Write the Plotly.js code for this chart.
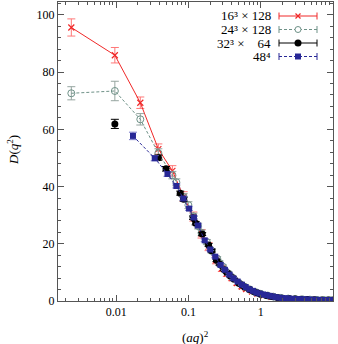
<!DOCTYPE html>
<html>
<head>
<meta charset="utf-8">
<script src="https://cdn.plot.ly/plotly-3.0.1.min.js"></script>
<style>
  html, body { margin: 0; padding: 0; background: #fff; }
  #plot { width: 338px; height: 344px; }
</style>
</head>
<body>
<div id="plot"></div>
<script>
// 16^3 x 128
var x16 = [0.0024, 0.0096, 0.0216, 0.0384, 0.06, 0.086, 0.117, 0.152, 0.19, 0.24, 0.29, 0.34, 0.4, 0.47, 0.55, 0.63, 0.76, 0.9, 1.1, 1.4, 1.8, 2.3, 3, 4, 5, 6.5, 8, 9.5];
var y16 = [95.6, 85.9, 69.3, 53.1, 45.5, 36.5, 29.5, 23.5, 19.0, 14.3, 11.4, 9.6, 8.0, 6.3, 5.0, 4.2, 3.3, 2.6, 2.0, 1.5, 1.1, 0.8, 0.6, 0.45, 0.38, 0.3, 0.25, 0.22];
var e16 = [3.0, 2.7, 2.0, 1.8, 1.8, 1.7, 1.6, 1.5, 1.4, 1.3, 1.1, 1.0, 0.9, 0.8, 0.7, 0.6, 0.5, 0.4, 0.3, 0.3, 0.2, 0.2, 0.1, 0.1, 0.1, 0.1, 0.1, 0.1];

// 24^3 x 128
var x24 = [0.0024, 0.0096, 0.0216, 0.0384, 0.06, 0.0681, 0.086, 0.1, 0.117, 0.136, 0.152, 0.18, 0.21, 0.25, 0.27, 0.3, 0.36, 0.41, 0.5, 0.6, 0.7, 0.85, 1.0, 1.25, 1.5, 1.9, 2.4, 3.0, 3.8, 4.8, 6, 7.5, 9];
var y24 = [72.6, 73.4, 63.5, 51.7, 44.0, 41.5, 36.3, 33.5, 29.6, 26.2, 23.8, 20.6, 17.5, 14.8, 13.3, 12.0, 9.6, 8.1, 6.3, 5.0, 4.1, 3.1, 2.5, 1.9, 1.5, 1.1, 0.85, 0.7, 0.57, 0.47, 0.4, 0.35, 0.32];
var e24 = [2.3, 3.4, 2.0, 1.5, 1.3, 1.2, 1.2, 1.2, 1.1, 1.0, 1.0, 0.9, 0.8, 0.7, 0.7, 0.6, 0.5, 0.5, 0.4, 0.3, 0.3, 0.2, 0.2, 0.2, 0.1, 0.1, 0.1, 0.1, 0.1, 0.1, 0.1, 0.1, 0.1];

// 32^3 x 64
var x32 = [0.0096, 0.0384, 0.049, 0.077, 0.086, 0.116, 0.126, 0.155, 0.19, 0.21, 0.245, 0.27, 0.31, 0.34, 0.38, 0.43, 0.5, 0.55, 0.6, 0.7, 0.8, 0.9, 1.0, 1.2, 1.4, 1.7, 2, 2.5, 3, 3.6, 4.4, 5.5, 7, 8.5, 10];
var y32 = [61.9, 50.1, 46.2, 37.7, 35.6, 29.1, 27.2, 23.4, 19.6, 17.6, 14.2, 12.9, 11.0, 10.0, 8.7, 7.6, 6.2, 5.6, 4.9, 4.0, 3.3, 2.8, 2.4, 1.9, 1.55, 1.2, 1.0, 0.8, 0.68, 0.58, 0.5, 0.43, 0.37, 0.34, 0.32];
var e32 = [1.6, 0.9, 0.8, 0.7, 0.7, 0.6, 0.6, 0.5, 0.5, 0.5, 0.4, 0.4, 0.4, 0.3, 0.3, 0.3, 0.2, 0.2, 0.2, 0.2, 0.1, 0.1, 0.1, 0.1, 0.1, 0.1, 0.1, 0.1, 0.1, 0.1, 0.1, 0.1, 0.1, 0.1, 0.1];

// 48^4
var x48 = [0.0171, 0.0342, 0.0513, 0.0681, 0.0852, 0.102, 0.119, 0.136, 0.168, 0.2, 0.235, 0.278, 0.32, 0.37, 0.42, 0.48, 0.55, 0.62, 0.7, 0.78, 0.87, 0.97, 1.08, 1.2, 1.33, 1.47, 1.62, 1.8, 2.0, 2.2, 2.45, 2.7, 3.0, 3.3, 3.65, 4.0, 4.4, 4.85, 5.35, 5.9, 6.5, 7.2, 7.9, 8.7, 9.6];
var y48 = [57.7, 49.9, 44.4, 40.2, 35.8, 32.3, 29.2, 26.4, 21.2, 18.0, 15.5, 12.6, 10.9, 9.2, 7.9, 6.8, 5.7, 4.9, 4.1, 3.55, 2.95, 2.6, 2.3, 2.05, 1.8, 1.58, 1.33, 1.17, 1.05, 0.95, 0.86, 0.78, 0.71, 0.65, 0.6, 0.55, 0.51, 0.47, 0.44, 0.41, 0.38, 0.36, 0.34, 0.33, 0.32];
var e48 = [1.3, 0.9, 0.8, 0.7, 0.6, 0.6, 0.5, 0.5, 0.5, 0.4, 0.4, 0.4, 0.3, 0.3, 0.3, 0.2, 0.2, 0.2, 0.2, 0.1, 0.1, 0.1, 0.1, 0.1, 0.1, 0.1, 0.1, 0.1, 0.1, 0.1, 0.1, 0.1, 0.1, 0.1, 0.1, 0.1, 0.1, 0.1, 0.1, 0.1, 0.1, 0.1, 0.1, 0.1, 0.1];

var names = ['16³ × 128', '24³ × 128', '32³ ×\u00a0\u00a0\u00a0 64', '48⁴'];

var red = 'rgb(240,40,40)', gray = 'rgb(110,145,135)', blk = 'rgb(0,0,0)', blue = 'rgb(40,40,150)';
var serif = 'Liberation Serif, DejaVu Serif, serif';

var data = [
    {x: x16, y: y16, type: 'scatter', mode: 'lines+markers',
     line: {color: red, width: 1},
     marker: {symbol: 'x-thin', size: 6, line: {color: red, width: 1.2}},
     error_y: {type: 'data', array: e16, color: 'rgb(255,120,120)', thickness: 1, width: 4}},
    {x: x24, y: y24, type: 'scatter', mode: 'lines+markers',
     line: {color: gray, width: 1, dash: '3px,2px'},
     marker: {symbol: 'circle-open', size: 7, color: gray, line: {width: 1}},
     error_y: {type: 'data', array: e24, color: 'rgb(150,165,160)', thickness: 1, width: 4}},
    {x: x32, y: y32, type: 'scatter', mode: 'markers',
     marker: {symbol: 'circle', size: 7, color: blk},
     error_y: {type: 'data', array: e32, color: blk, thickness: 1, width: 4}},
    {x: x48, y: y48, type: 'scatter', mode: 'lines+markers',
     line: {color: blue, width: 1, dash: '3px,2px'},
     marker: {symbol: 'square', size: 6, color: blue},
     error_y: {type: 'data', array: e48, color: 'rgb(120,120,200)', thickness: 1, width: 4}}
];

// hand drawn legend (text left, sample right), positions in pixels
var L = 58, R = 333, T = 2, B = 301;
function px(v) { return (v - L) / (R - L); }
function py(v) { return (B - v) / (B - T); }

var rows = [16, 29.5, 43, 56.5];
var cols = [red, gray, blk, blue];
var dashes = ['solid', 'dash', 'solid', 'dash'];
var shapes = [], annotations = [];
rows.forEach(function (r, i) {
    annotations.push({xref: 'paper', yref: 'paper', x: px(272), y: py(r), xanchor: 'right', yanchor: 'middle',
        borderpad: 0,
        text: names[i], showarrow: false, font: {family: serif, size: 13, color: '#000'}});
    shapes.push({type: 'line', xref: 'paper', yref: 'paper', x0: px(279), x1: px(317), y0: py(r), y1: py(r),
        line: {color: cols[i], width: 1, dash: dashes[i] === 'dash' ? '3px,2px' : 'solid'}});
    [279, 317].forEach(function (c) {
        shapes.push({type: 'line', xref: 'paper', yref: 'paper', x0: px(c), x1: px(c), y0: py(r - 3.5), y1: py(r + 3.5),
            line: {color: cols[i], width: 1}});
    });
});
// legend markers
shapes.push({type: 'line', xref: 'paper', yref: 'paper', x0: px(295.5), x1: px(300.5), y0: py(rows[0] - 2.5), y1: py(rows[0] + 2.5), line: {color: red, width: 1.2}});
shapes.push({type: 'line', xref: 'paper', yref: 'paper', x0: px(295.5), x1: px(300.5), y0: py(rows[0] + 2.5), y1: py(rows[0] - 2.5), line: {color: red, width: 1.2}});
shapes.push({type: 'circle', xref: 'paper', yref: 'paper', x0: px(295), x1: px(301), y0: py(rows[1] - 3), y1: py(rows[1] + 3), fillcolor: '#fff', line: {color: gray, width: 1}});
shapes.push({type: 'circle', xref: 'paper', yref: 'paper', x0: px(294.5), x1: px(301.5), y0: py(rows[2] - 3.5), y1: py(rows[2] + 3.5), fillcolor: blk, line: {color: blk, width: 0}});
shapes.push({type: 'rect', xref: 'paper', yref: 'paper', x0: px(295), x1: px(301), y0: py(rows[3] - 3), y1: py(rows[3] + 3), fillcolor: blue, line: {color: blue, width: 0}});

// axis titles placed as annotations for exact position
annotations.push({xref: 'paper', yref: 'paper', x: px(195), y: py(337), xanchor: 'center', yanchor: 'middle',
    text: '(<i>aq</i>)<sup>2</sup>', showarrow: false, font: {family: serif, size: 13, color: '#000'}});
annotations.push({xref: 'paper', yref: 'paper', x: px(13), y: py(150), xanchor: 'center', yanchor: 'middle',
    textangle: -90, text: '<i>D</i>(<i>q</i><sup>2</sup>)', showarrow: false, font: {family: serif, size: 13, color: '#000'}});

var layout = {
    width: 338, height: 344,
    margin: {l: L, r: 338 - R, t: T, b: 344 - B, pad: 0},
    paper_bgcolor: '#fff', plot_bgcolor: '#fff',
    showlegend: false,
    font: {family: serif, size: 12, color: '#000'},
    xaxis: {
        type: 'log',
        range: [Math.log10(0.00157), 1],
        tickvals: [0.01, 0.1, 1, 10],
        ticktext: ['0.01', '0.1', '1', '10'],
        ticks: 'inside', ticklen: 6, tickcolor: '#555',
        minor: {ticks: 'inside', ticklen: 3, dtick: 'D1', tickcolor: '#555', showgrid: false},
        showline: true, linecolor: '#555', mirror: 'allticks',
        showgrid: false, zeroline: false,
        tickfont: {family: serif, size: 12}
    },
    yaxis: {
        range: [0, 104.5],
        tickvals: [0, 20, 40, 60, 80, 100],
        ticks: 'inside', ticklen: 6, tickcolor: '#555',
        minor: {ticks: 'inside', ticklen: 3, dtick: 4, tickcolor: '#555', showgrid: false},
        showline: true, linecolor: '#555', mirror: 'allticks',
        showgrid: false, zeroline: false,
        tickfont: {family: serif, size: 12}
    },
    shapes: shapes,
    annotations: annotations
};

Plotly.newPlot('plot', data, layout, {displayModeBar: false, responsive: false});
</script>
</body>
</html>
